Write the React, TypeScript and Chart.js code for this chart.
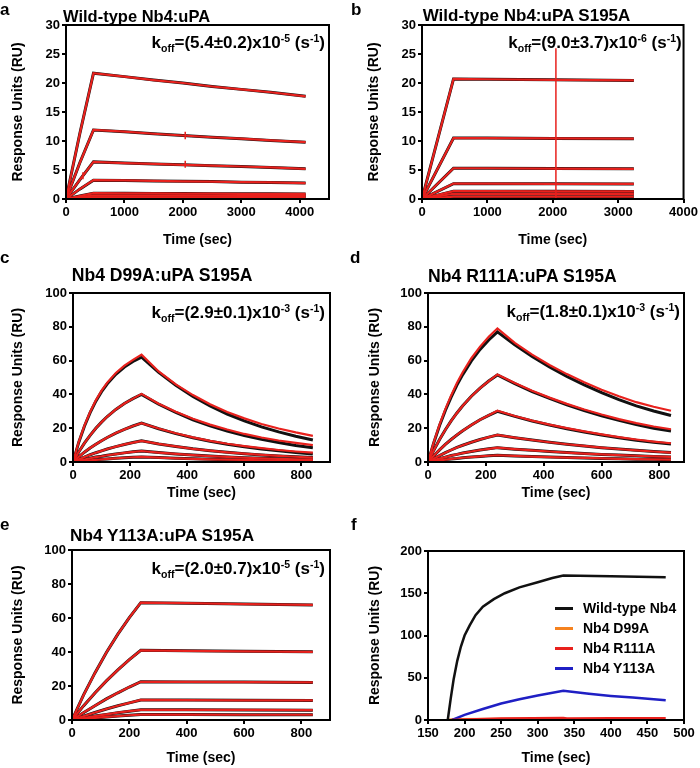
import React, { useEffect, useRef } from 'react';
import { Chart, registerables } from 'chart.js';
Chart.register(...registerables);

const FONT = '"Liberation Sans", Arial, Helvetica, sans-serif';
const RED = '#e8211d';
const BLACK = '#111111';
const ORANGE = '#f5821f';
const BLUE = '#1f1fc4';

// ---------- Panel a: Wild-type Nb4:uPA ----------
const aTime = [0, 235, 470, 1000, 1500, 2000, 2500, 3000, 3500, 4100];
const aCurves = [
  [0, 11.2, 21.7, 21.1, 20.5, 20.0, 19.4, 18.9, 18.4, 17.7],
  [0, 6.2, 11.9, 11.6, 11.25, 10.95, 10.65, 10.4, 10.1, 9.8],
  [0, 3.3, 6.4, 6.2, 6.05, 5.9, 5.75, 5.6, 5.45, 5.2],
  [0, 1.7, 3.25, 3.2, 3.12, 3.05, 3.0, 2.9, 2.85, 2.75],
  [0, 0.52, 1.0, 0.98, 0.96, 0.94, 0.92, 0.9, 0.89, 0.88],
  [0, 0.31, 0.6, 0.59, 0.58, 0.57, 0.56, 0.55, 0.55, 0.54],
  [0, 0.15, 0.3, 0.3, 0.29, 0.29, 0.28, 0.28, 0.28, 0.27],
];
// small injection artefacts (vertical red marks) in panel a
const aSpikeTime = [2040, 2040, 2040, 2040, 2040, 2040, 290, 290];
const aSpikeValue = [10.3, 11.6, null, 5.4, 6.6, null, 3.4, 4.6];

// ---------- Panel b: Wild-type Nb4:uPA S195A ----------
const bTime = [0, 482, 1000, 2000, 3240];
const bCurves = [
  [0, 20.7, 20.65, 20.55, 20.45],
  [0, 10.5, 10.5, 10.45, 10.4],
  [0, 5.3, 5.3, 5.25, 5.2],
  [0, 2.65, 2.65, 2.62, 2.6],
  [0, 1.35, 1.35, 1.33, 1.3],
  [0, 0.9, 0.9, 0.88, 0.88],
  [0, 0.4, 0.4, 0.4, 0.4],
];
const bSpikeTime = [2048, 2048];
const bSpikeValue = [0, 26];

// ---------- Panel c: Nb4 D99A:uPA S195A ----------
const cTime = [0, 20, 40, 60, 80, 100, 120, 150, 180, 210, 240, 300, 360, 420, 480, 540, 600, 660, 720, 780, 840];
const cFit = [
  [0, 11.6, 21.2, 29.2, 36.0, 41.6, 46.3, 51.9, 56.2, 59.5, 62, 53.0, 45.4, 38.8, 33.2, 28.4, 24.3, 20.8, 17.8, 15.2, 13.0],
  [0, 5.9, 11.2, 15.8, 20.0, 23.6, 26.9, 31.1, 34.6, 37.5, 40, 34.2, 29.3, 25.0, 21.4, 18.3, 15.7, 13.4, 11.5, 9.8, 8.4],
  [0, 3.0, 5.8, 8.3, 10.5, 12.6, 14.5, 17.1, 19.3, 21.3, 23, 19.7, 16.8, 14.4, 12.3, 10.5, 9.0, 7.7, 6.6, 5.6, 4.8],
  [0, 1.5, 2.9, 4.3, 5.5, 6.6, 7.7, 9.1, 10.4, 11.5, 12.5, 10.7, 9.2, 7.8, 6.7, 5.7, 4.9, 4.2, 3.6, 3.1, 2.6],
  [0, 0.8, 1.5, 2.2, 2.9, 3.4, 4.0, 4.7, 5.4, 6.0, 6.5, 5.6, 4.8, 4.1, 3.5, 3.0, 2.5, 2.2, 1.9, 1.6, 1.4],
  [0, 0.4, 0.7, 1.0, 1.3, 1.6, 1.8, 2.2, 2.5, 2.8, 3.0, 2.6, 2.2, 1.9, 1.6, 1.4, 1.2, 1.0, 0.9, 0.7, 0.6],
];
const cData = [
  [0, 11.8, 21.5, 29.6, 36.5, 42.2, 47.0, 52.7, 57.0, 60.4, 63.5, 53.6, 45.9, 39.6, 34.2, 29.6, 25.8, 22.5, 19.8, 17.5, 15.5],
  [0, 5.9, 11.2, 15.8, 20.0, 23.6, 26.9, 31.1, 34.6, 37.5, 40.3, 34.5, 29.7, 25.6, 22.1, 19.2, 16.6, 14.5, 12.7, 11.3, 10.0],
  [0, 3.0, 5.8, 8.3, 10.5, 12.6, 14.5, 17.1, 19.3, 21.3, 23, 19.8, 17.0, 14.6, 12.5, 10.8, 9.4, 8.2, 7.1, 6.2, 5.5],
  [0, 1.5, 2.9, 4.3, 5.5, 6.6, 7.7, 9.1, 10.4, 11.5, 12.5, 10.7, 9.2, 7.8, 6.7, 5.7, 4.9, 4.2, 3.6, 3.1, 2.6],
  [0, 0.8, 1.5, 2.2, 2.9, 3.4, 4.0, 4.7, 5.4, 6.0, 6.5, 5.6, 4.8, 4.1, 3.5, 3.0, 2.5, 2.2, 1.9, 1.6, 1.4],
  [0, 0.4, 0.7, 1.0, 1.3, 1.6, 1.8, 2.2, 2.5, 2.8, 3.0, 2.6, 2.2, 1.9, 1.6, 1.4, 1.2, 1.0, 0.9, 0.7, 0.6],
];

// ---------- Panel d: Nb4 R111A:uPA S195A ----------
const dTime = [0, 20, 40, 60, 80, 100, 120, 150, 180, 210, 240, 300, 360, 420, 480, 540, 600, 660, 720, 780, 840];
const dFit = [
  [0, 11.4, 21.6, 30.5, 38.4, 45.5, 51.7, 59.8, 66.6, 72.2, 77, 69.3, 62.4, 56.2, 50.6, 45.6, 41.0, 36.9, 33.2, 30.2, 27.5],
  [0, 7.0, 13.3, 19.1, 24.3, 29.0, 33.3, 38.9, 43.7, 47.9, 51.5, 46.4, 41.7, 37.6, 33.8, 30.5, 27.4, 24.7, 22.2, 20.0, 18.4],
  [0, 3.7, 7.2, 10.4, 13.3, 16.0, 18.5, 21.9, 25.0, 27.6, 30, 27.0, 24.3, 21.9, 19.7, 17.8, 16.0, 14.4, 12.9, 11.7, 10.7],
  [0, 2.0, 3.8, 5.5, 7.1, 8.6, 9.9, 11.7, 13.3, 14.7, 16, 14.4, 13.0, 11.7, 10.5, 9.5, 8.5, 7.7, 6.9, 6.2, 5.6],
  [0, 1.1, 2.0, 2.9, 3.8, 4.5, 5.3, 6.2, 7.1, 7.8, 8.5, 7.6, 6.9, 6.2, 5.6, 5.0, 4.5, 4.1, 3.7, 3.3, 3.0],
  [0, 0.5, 1.0, 1.4, 1.8, 2.1, 2.5, 2.9, 3.3, 3.7, 4.0, 3.6, 3.2, 2.9, 2.6, 2.4, 2.1, 1.9, 1.7, 1.6, 1.4],
];
const dData = [
  [0, 11.7, 22.1, 31.3, 39.4, 46.7, 53.1, 61.4, 68.3, 74.1, 79, 70.5, 63.5, 57.4, 52.0, 47.2, 42.8, 38.9, 35.4, 32.7, 30.3],
  [0, 7.0, 13.3, 19.1, 24.3, 29.0, 33.3, 38.9, 43.7, 47.9, 51.8, 46.7, 42.1, 38.1, 34.4, 31.1, 28.1, 25.4, 23.0, 21.0, 19.4],
  [0, 3.7, 7.2, 10.4, 13.3, 16.0, 18.5, 21.9, 25.0, 27.6, 30.3, 27.2, 24.5, 22.1, 20.0, 18.1, 16.3, 14.7, 13.3, 12.1, 11.1],
  [0, 2.0, 3.8, 5.5, 7.1, 8.6, 9.9, 11.7, 13.3, 14.7, 16, 14.4, 13.0, 11.7, 10.5, 9.5, 8.5, 7.7, 6.9, 6.2, 5.6],
  [0, 1.1, 2.0, 2.9, 3.8, 4.5, 5.3, 6.2, 7.1, 7.8, 8.5, 7.6, 6.9, 6.2, 5.6, 5.0, 4.5, 4.1, 3.7, 3.3, 3.0],
  [0, 0.5, 1.0, 1.4, 1.8, 2.1, 2.5, 2.9, 3.3, 3.7, 4.0, 3.6, 3.2, 2.9, 2.6, 2.4, 2.1, 1.9, 1.7, 1.6, 1.4],
];

// ---------- Panel e: Nb4 Y113A:uPA S195A ----------
const eTime = [0, 40, 80, 120, 160, 200, 240, 400, 600, 840];
const eCurves = [
  [0, 14.6, 27.7, 39.7, 50.5, 60.2, 69, 68.7, 68.2, 67.7],
  [0, 8.3, 15.9, 23.0, 29.5, 35.5, 41, 40.7, 40.4, 40.1],
  [0, 4.3, 8.4, 12.4, 16.0, 19.4, 22.5, 22.4, 22.3, 22.1],
  [0, 2.2, 4.4, 6.5, 8.4, 10.1, 11.8, 11.7, 11.6, 11.5],
  [0, 1.1, 2.3, 3.3, 4.3, 5.2, 6.0, 6.0, 5.9, 5.8],
  [0, 0.6, 1.2, 1.8, 2.3, 2.8, 3.2, 3.2, 3.1, 3.1],
];

// ---------- Panel f: comparison ----------
const fLabels = ['Wild-type Nb4', 'Nb4 D99A', 'Nb4 R111A', 'Nb4 Y113A'];
const fColors = [BLACK, ORANGE, RED, BLUE];
const fWtTime = [177, 181, 185, 190, 195, 200, 207, 215, 225, 240, 255, 275, 300, 320, 335, 400, 475];
const fWtValue = [0, 25, 48, 70, 87, 100, 112, 124, 134, 143, 150, 157, 163, 168, 171, 170, 169];
const fD99Time = [177, 185, 250, 315];
const fD99Value = [0, 1.0, 1.2, 1.2];
const fR111Time = [183, 250, 335, 340, 400, 475];
const fR111Value = [0, 1.8, 2.3, 1.9, 2.0, 2.0];
const fY113Time = [183, 200, 225, 250, 275, 300, 335, 370, 400, 430, 475];
const fY113Value = [0, 6, 13, 19.5, 24.5, 29, 34.5, 31, 28.5, 26.5, 23.5];

const pts = (xs: number[], ys: (number | null)[]) => xs.map((x, i) => ({ x, y: ys[i] }));
const line = (xs: number[], ys: (number | null)[], color: string, width: number, order: number) => ({
  data: pts(xs, ys),
  borderColor: color,
  backgroundColor: color,
  borderWidth: width,
  pointRadius: 0,
  fill: false,
  tension: 0,
  spanGaps: false,
  order,
});

const sensor = (xs: number[], fit: number[][], data: number[][]) => [
  ...data.map((ys) => line(xs, ys, RED, 2.2, 1)),
  ...fit.map((ys) => line(xs, ys, BLACK, 3, 2)),
];

const framePlugin = {
  id: 'frame',
  afterDraw(chart: any) {
    const { ctx, chartArea } = chart;
    const { left, top, right, bottom } = chartArea;
    ctx.save();
    ctx.strokeStyle = '#000';
    ctx.lineWidth = 2;
    ctx.strokeRect(left, top, right - left, bottom - top);
    ctx.restore();
  },
};

type Spec = {
  box: { x: number; y: number; w: number; h: number };
  plot: { l: number; t: number; r: number; b: number };
  x: { min: number; max: number; step: number };
  y: { min: number; max: number; step: number };
  yTitleX: number;
  xTitleY: number;
  datasets: any[];
};

const PANELS: Spec[] = [
  {
    box: { x: 0, y: 0, w: 340, h: 255 },
    plot: { l: 66, t: 25, r: 329, b: 199 },
    x: { min: 0, max: 4500, step: 1000 },
    y: { min: 0, max: 30, step: 5 },
    yTitleX: 18,
    xTitleY: 240,
    datasets: [line(aSpikeTime, aSpikeValue, RED, 1.5, 0), ...sensor(aTime, aCurves, aCurves)],
  },
  {
    box: { x: 350, y: 0, w: 350, h: 255 },
    plot: { l: 422, t: 25, r: 684, b: 199 },
    x: { min: 0, max: 4000, step: 1000 },
    y: { min: 0, max: 30, step: 5 },
    yTitleX: 374,
    xTitleY: 240,
    datasets: [line(bSpikeTime, bSpikeValue, RED, 1.5, 0), ...sensor(bTime, bCurves, bCurves)],
  },
  {
    box: { x: 0, y: 255, w: 340, h: 250 },
    plot: { l: 73, t: 293, r: 330, b: 462 },
    x: { min: 0, max: 900, step: 200 },
    y: { min: 0, max: 100, step: 20 },
    yTitleX: 18.5,
    xTitleY: 493,
    datasets: sensor(cTime, cFit, cData),
  },
  {
    box: { x: 350, y: 255, w: 350, h: 250 },
    plot: { l: 428, t: 293, r: 684, b: 462 },
    x: { min: 0, max: 885, step: 200 },
    y: { min: 0, max: 100, step: 20 },
    yTitleX: 375,
    xTitleY: 493,
    datasets: sensor(dTime, dFit, dData),
  },
  {
    box: { x: 0, y: 505, w: 340, h: 263 },
    plot: { l: 72, t: 550, r: 330, b: 720 },
    x: { min: 0, max: 900, step: 200 },
    y: { min: 0, max: 100, step: 20 },
    yTitleX: 18.5,
    xTitleY: 758,
    datasets: sensor(eTime, eCurves, eCurves),
  },
  {
    box: { x: 350, y: 505, w: 350, h: 263 },
    plot: { l: 428, t: 551, r: 684, b: 720 },
    x: { min: 150, max: 500, step: 50 },
    y: { min: 0, max: 200, step: 50 },
    yTitleX: 375,
    xTitleY: 758,
    datasets: [
      line(fR111Time, fR111Value, fColors[2], 2.5, 1),
      line(fD99Time, fD99Value, fColors[1], 2.5, 2),
      line(fY113Time, fY113Value, fColors[3], 2.5, 1),
      line(fWtTime, fWtValue, fColors[0], 2.5, 1),
    ],
  },
];

const tickFont = { family: FONT, size: 13, weight: 'bold' as const };
const titleFont = { family: FONT, size: 14, weight: 'bold' as const };

const stepTicks = (min: number, max: number, step: number) => (sc: any) => {
  const out: { value: number }[] = [];
  for (let v = Math.ceil(min / step) * step; v <= max + 1e-9; v += step) out.push({ value: v });
  sc.ticks = out;
};

function makeConfig(s: Spec): any {
  const { box, plot } = s;
  const grid = { drawOnChartArea: false, drawTicks: true, tickLength: 4, lineWidth: 2, color: '#000' };
  return {
    type: 'line',
    data: { datasets: s.datasets },
    options: {
      animation: false,
      responsive: false,
      maintainAspectRatio: false,
      devicePixelRatio: 1,
      layout: { padding: { left: 0, top: plot.t - box.y, right: box.x + box.w - plot.r, bottom: 0 } },
      plugins: { legend: { display: false }, tooltip: { enabled: false }, title: { display: false } },
      scales: {
        x: {
          type: 'linear',
          min: s.x.min,
          max: s.x.max,
          afterBuildTicks: stepTicks(s.x.min, s.x.max, s.x.step),
          ticks: { font: tickFont, color: '#000', padding: 2, maxRotation: 0, autoSkip: false, callback: (v: any) => String(v) },
          grid,
          border: { display: false },
          title: {
            display: true,
            text: 'Time (sec)',
            font: titleFont,
            color: '#000',
            padding: { top: 0, bottom: box.y + box.h - s.xTitleY - 8.4 },
          },
          afterFit: (sc: any) => {
            sc.height = box.y + box.h - plot.b;
          },
        },
        y: {
          type: 'linear',
          min: s.y.min,
          max: s.y.max,
          afterBuildTicks: stepTicks(s.y.min, s.y.max, s.y.step),
          ticks: { font: tickFont, color: '#000', padding: 2, autoSkip: false, callback: (v: any) => String(v) },
          grid,
          border: { display: false },
          title: {
            display: true,
            text: 'Response Units (RU)',
            font: titleFont,
            color: '#000',
            padding: { top: s.yTitleX - box.x - 8.4, bottom: 0 },
          },
          afterFit: (sc: any) => {
            sc.width = plot.l - box.x;
          },
        },
      },
    },
    plugins: [framePlugin],
  };
}

function Panel({ spec }: { spec: Spec }) {
  const ref = useRef<HTMLCanvasElement | null>(null);
  useEffect(() => {
    if (!ref.current) return;
    const chart = new Chart(ref.current, makeConfig(spec));
    return () => chart.destroy();
  }, [spec]);
  const { box } = spec;
  return (
    <canvas
      ref={ref}
      width={box.w}
      height={box.h}
      style={{ position: 'absolute', left: box.x, top: box.y, width: box.w, height: box.h }}
    />
  );
}

const base: React.CSSProperties = {
  position: 'absolute',
  fontFamily: FONT,
  fontWeight: 'bold',
  color: '#000',
  whiteSpace: 'nowrap',
  lineHeight: 1,
};

// text positioned by baseline
function T({ x, base: bl, size, right, children }: { x: number; base: number; size: number; right?: boolean; children: any }) {
  const top = bl - 0.8465 * size;
  const style: React.CSSProperties = { ...base, top, fontSize: size };
  if (right) style.right = 700 - x;
  else style.left = x;
  return <div style={style}>{children}</div>;
}

const sub = (t: string) => (
  <span style={{ fontSize: '0.62em', verticalAlign: '-0.4em', lineHeight: 0 }}>{t}</span>
);
const sup = (t: string) => (
  <span style={{ fontSize: '0.62em', verticalAlign: '0.55em', lineHeight: 0 }}>{t}</span>
);

function Koff({ x, bl, val, exp }: { x: number; bl: number; val: string; exp: string }) {
  return (
    <T x={x} base={bl} size={17} right>
      k{sub('off')}=({val})x10{sup(exp)} (s{sup('-1')})
    </T>
  );
}

export default function App() {
  return (
    <div style={{ position: 'absolute', left: 0, top: 0, width: 700, height: 768, background: '#fff' }}>
      {PANELS.map((p, i) => (
        <Panel key={i} spec={p} />
      ))}
      <T x={0} base={15} size={17}>a</T>
      <T x={351} base={15} size={17}>b</T>
      <T x={0} base={263} size={17}>c</T>
      <T x={350} base={263} size={17}>d</T>
      <T x={0} base={530} size={17}>e</T>
      <T x={351} base={530} size={17}>f</T>

      <T x={63} base={21.7} size={16.5}>Wild-type Nb4:uPA</T>
      <T x={422.7} base={21} size={17}>Wild-type Nb4:uPA S195A</T>
      <T x={71.7} base={282} size={17.6}>Nb4 D99A:uPA S195A</T>
      <T x={428} base={282.5} size={17.6}>Nb4 R111A:uPA S195A</T>
      <T x={70} base={542} size={17.2}>Nb4 Y113A:uPA S195A</T>

      <Koff x={325} bl={48.3} val="5.4±0.2" exp="-5" />
      <Koff x={681.7} bl={48.3} val="9.0±3.7" exp="-6" />
      <Koff x={325} bl={318} val="2.9±0.1" exp="-3" />
      <Koff x={680} bl={317} val="1.8±0.1" exp="-3" />
      <Koff x={325} bl={574} val="2.0±0.7" exp="-5" />

      {fLabels.map((lab, i) => {
        const cy = 608 + i * 20;
        return (
          <React.Fragment key={lab}>
            <div style={{ position: 'absolute', left: 555, top: cy - 1.5, width: 18, height: 3, background: fColors[i] }} />
            <T x={583} base={cy + 5} size={14}>{lab}</T>
          </React.Fragment>
        );
      })}
    </div>
  );
}
